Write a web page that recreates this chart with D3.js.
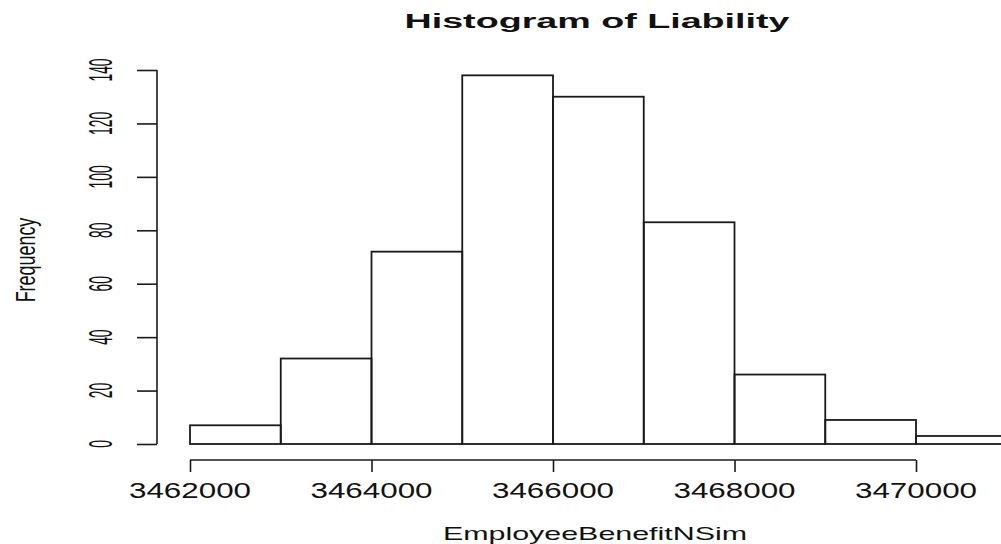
<!DOCTYPE html>
<html>
<head>
<meta charset="utf-8">
<script src="https://cdn.jsdelivr.net/npm/d3@7"></script>
<style>
  html, body { margin: 0; padding: 0; background: #fff; overflow: hidden; }
  svg { display: block; }
  text { font-family: "Liberation Sans", Arial, sans-serif; fill: #111; }
</style>
</head>
<body>
<svg id="chart" width="1001" height="544"></svg>
<script>
// Histogram bins of the simulated liability (bin width 1000)
const binStarts = [3462000, 3463000, 3464000, 3465000, 3466000, 3467000, 3468000, 3469000, 3470000];
const binWidth = 1000;
const counts = [7, 32, 72, 138, 130, 83, 26, 9, 3];
const xTicks = [3462000, 3464000, 3466000, 3468000, 3470000];
const yTicks = [0, 20, 40, 60, 80, 100, 120, 140];
const title = "Histogram of Liability";
const xLabel = "EmployeeBenefitNSim";
const yLabel = "Frequency";

const svg = d3.select("#chart");

const x = d3.scaleLinear().domain([3462000, 3470000]).range([190, 916]);
const y = d3.scaleLinear().domain([0, 140]).range([444, 70]);

const stroke = "#1a1a1a";

// bars
svg.append("g")
  .selectAll("rect")
  .data(binStarts.map((s, i) => ({ s, c: counts[i] })))
  .join("rect")
  .attr("x", d => x(d.s))
  .attr("y", d => y(d.c))
  .attr("width", d => x(d.s + binWidth) - x(d.s))
  .attr("height", d => y(0) - y(d.c))
  .attr("fill", "none")
  .attr("stroke", stroke)
  .attr("stroke-width", 1.8);

// x axis
const xAxisY = 460;
const gx = svg.append("g").attr("transform", `translate(0,${xAxisY})`);
gx.call(d3.axisBottom(x).tickValues(xTicks).tickSize(12).tickFormat(""));
gx.select(".domain").attr("d", `M${x(xTicks[0])},0H${x(xTicks[xTicks.length - 1])}`);
gx.selectAll("path, line").attr("stroke", stroke).attr("stroke-width", 1.6);

svg.append("g")
  .selectAll("text")
  .data(xTicks)
  .join("text")
  .attr("x", d => x(d))
  .attr("y", 498)
  .attr("text-anchor", "middle")
  .attr("font-size", 21.5)
  .attr("textLength", 122)
  .attr("lengthAdjust", "spacingAndGlyphs")
  .text(d => d3.format("d")(d));

// y axis
const yAxisX = 157;
const gy = svg.append("g").attr("transform", `translate(${yAxisX},0)`);
gy.call(d3.axisLeft(y).tickValues(yTicks).tickSize(20).tickFormat(""));
gy.select(".domain").attr("d", `M0,${y(0)}V${y(140)}`);
gy.selectAll("path, line").attr("stroke", stroke).attr("stroke-width", 1.6);

svg.append("g")
  .selectAll("text")
  .data(yTicks)
  .join("text")
  .attr("transform", d => `translate(112,${y(d)}) rotate(-90) scale(0.42,1)`)
  .attr("text-anchor", "middle")
  .attr("font-size", 33)
  .text(d => d);

// title and axis titles
svg.append("text")
  .attr("x", 597)
  .attr("y", 28)
  .attr("text-anchor", "middle")
  .attr("font-weight", "bold")
  .attr("font-size", 20)
  .attr("textLength", 385)
  .attr("lengthAdjust", "spacingAndGlyphs")
  .text(title);

svg.append("text")
  .attr("x", 595)
  .attr("y", 540)
  .attr("text-anchor", "middle")
  .attr("font-size", 18.5)
  .attr("textLength", 304)
  .attr("lengthAdjust", "spacingAndGlyphs")
  .text(xLabel);

svg.append("text")
  .attr("transform", "translate(35,260) rotate(-90) scale(0.64,1)")
  .attr("text-anchor", "middle")
  .attr("font-size", 28)
  .text(yLabel);
</script>
</body>
</html>
